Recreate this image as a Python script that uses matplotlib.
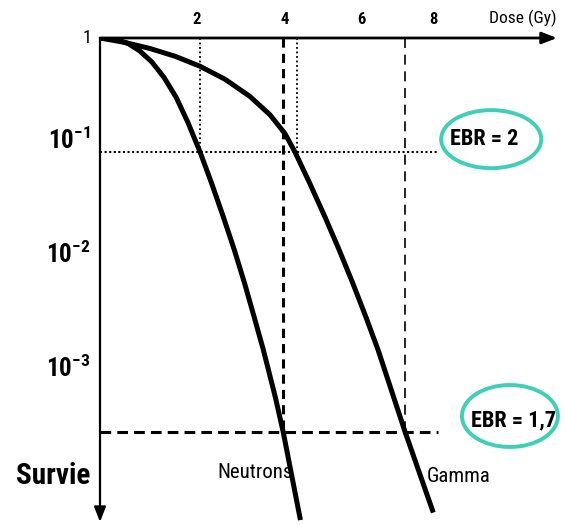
import numpy as np
import matplotlib
matplotlib.use('Agg')
import matplotlib.pyplot as plt
import matplotlib.transforms as mtransforms
from matplotlib import font_manager
from matplotlib.patches import Ellipse
from matplotlib.ticker import NullLocator

# the scanned figure uses a condensed Helvetica-like face
available = {f.name for f in font_manager.fontManager.ttflist}
narrow = next((n for n in ['Liberation Sans Narrow', 'Arial Narrow', 'Nimbus Sans Narrow',
                           'Roboto Condensed', 'Archivo Narrow', 'PT Sans Narrow']
               if n in available), 'Liberation Sans')
plt.rcParams['font.family'] = [narrow, 'DejaVu Sans']
plt.rcParams['mathtext.fontset'] = 'custom'
plt.rcParams['mathtext.rm'] = narrow
plt.rcParams['mathtext.bf'] = narrow + ':bold'

# survival curves (dose in Gy, surviving fraction)
neutron_dose = [0, 0.31, 0.58, 0.82, 1.07, 1.32, 1.57, 1.81, 2.07, 2.33, 2.60, 2.85,
                3.08, 3.30, 3.51, 3.78, 3.96, 4.39]
neutron_surv = [1, 0.976, 0.895, 0.770, 0.616, 0.451, 0.302, 0.183, 0.1, 0.0535, 0.0269,
                0.0138, 0.0071, 0.00357, 0.00183, 7.1e-4, 3.5e-4, 6.2e-5]
gamma_dose = [0, 0.52, 1.03, 1.55, 2.07, 2.64, 3.20, 3.66, 4.0, 4.26, 4.64, 5.04, 5.41,
              5.76, 6.11, 6.45, 7.20, 7.96]
gamma_surv = [1, 0.913, 0.809, 0.691, 0.565, 0.434, 0.308, 0.212, 0.145, 0.1, 0.0535,
              0.0269, 0.0138, 0.0071, 0.00357, 0.00183, 3.5e-4, 7.2e-5]

# reference levels and iso-effect doses
surv_high = 0.1
surv_low = 3.5e-4
neutron_d_high, gamma_d_high = 2.07, 4.31
neutron_d_low, gamma_d_low = 3.96, 7.20
line_end_dose = 8.1

dose_ticks = [2, 4, 6, 8]
surv_ticks = [1e-1, 1e-2, 1e-3]
surv_labels = [r'$\mathbf{10^{-1}}$', r'$\mathbf{10^{-2}}$', r'$\mathbf{10^{-3}}$']
ebr_labels = ['EBR = 2', 'EBR = 1,7']

# the dose axis of the drawing is not evenly spaced
sketch_dose = [0, 2, 4, 6, 8, 12]
sketch_pos = [0, 97, 185, 262, 334, 478]


def forward(x):
    return np.interp(x, sketch_dose, sketch_pos)


def inverse(p):
    return np.interp(p, sketch_pos, sketch_dose)


fig = plt.figure(figsize=(5.66, 5.25), dpi=100)
ax = fig.add_axes([100 / 566, 3 / 525, 457 / 566, 484 / 525])
ax.set_xscale('function', functions=(forward, inverse))
ax.set_yscale('log')
ax.set_xlim(0, 11.42)
ax.set_ylim(10 ** -4.246, 1)

for s in ax.spines.values():
    s.set_visible(False)

# curves
ax.plot(neutron_dose, neutron_surv, color='black', lw=3.6, solid_joinstyle='round')
ax.plot(gamma_dose, gamma_surv, color='black', lw=3.6, solid_joinstyle='round')

# guide lines
ax.plot([0, line_end_dose], [surv_high, surv_high], color='black', lw=1.5,
        linestyle=(0, (1, 1.2)))
ax.plot([neutron_d_high, neutron_d_high], [1, surv_high], color='black', lw=1.3,
        linestyle=(0, (1, 1.5)))
ax.plot([gamma_d_high, gamma_d_high], [1, surv_high], color='black', lw=1.3,
        linestyle=(0, (1, 1.5)))
ax.plot([0, line_end_dose], [surv_low, surv_low], color='black', lw=2.2,
        linestyle=(0, (3.5, 2)))
ax.plot([neutron_d_low, neutron_d_low], [1, surv_low], color='black', lw=2.2,
        linestyle=(0, (3, 2)))
ax.plot([gamma_d_low, gamma_d_low], [1, surv_low], color='black', lw=1.2,
        linestyle=(0, (6, 4)))

# axes with arrows
arrow = dict(arrowstyle='-|>,head_length=0.9,head_width=0.35', lw=2, color='black',
             shrinkA=0, shrinkB=0)
ax.annotate('', xy=(1.0, 1.0), xytext=(0, 1.0), xycoords='axes fraction',
            arrowprops=arrow, annotation_clip=False)
ax.annotate('', xy=(0, 0), xytext=(0, 1.0), xycoords='axes fraction',
            arrowprops=dict(arrow, lw=1.6), annotation_clip=False)

# ticks
ax.xaxis.tick_top()
ax.set_xticks(dose_ticks)
ax.tick_params(axis='x', length=0, pad=8, labelsize=12)
for lab in ax.get_xticklabels():
    lab.set_fontweight('bold')

ax.set_yticks(surv_ticks, surv_labels)
ax.yaxis.set_minor_locator(NullLocator())
ax.tick_params(axis='y', length=0, pad=7, labelsize=18)
shift = mtransforms.ScaledTranslation(0, 14 / 100, fig.dpi_scale_trans)
for lab in ax.get_yticklabels():
    lab.set_transform(lab.get_transform() + shift)

ax.text(-0.018, 1.0, '1', transform=ax.transAxes, ha='right', va='center', fontsize=13)
ax.text(1.0, 1.041, 'Dose (Gy)', transform=ax.transAxes, ha='right', va='center',
        fontsize=12.5)
ax.text(-0.022, 0.095, 'Survie', transform=ax.transAxes, ha='right', va='center',
        fontsize=21, fontweight='bold')

ax.text(2.47, 10 ** -3.816, 'Neutrons', ha='left', va='center', fontsize=15)
ax.text(7.81, 10 ** -3.85, 'Gamma', ha='left', va='center', fontsize=15)

# EBR bubbles
teal = '#3ecfb6'
ax.add_patch(Ellipse((0.856, 0.791), 0.219, 0.120, transform=ax.transAxes,
                     fill=False, ec=teal, lw=2.8, clip_on=False))
ax.text(0.840, 0.791, ebr_labels[0], transform=ax.transAxes, ha='center',
        va='center', fontsize=16, fontweight='bold')
ax.add_patch(Ellipse((0.897, 0.219), 0.210, 0.128, transform=ax.transAxes,
                     fill=False, ec=teal, lw=2.8, clip_on=False))
ax.text(0.904, 0.211, ebr_labels[1], transform=ax.transAxes, ha='center',
        va='center', fontsize=16, fontweight='bold')

fig.savefig('out.png', dpi=100)
